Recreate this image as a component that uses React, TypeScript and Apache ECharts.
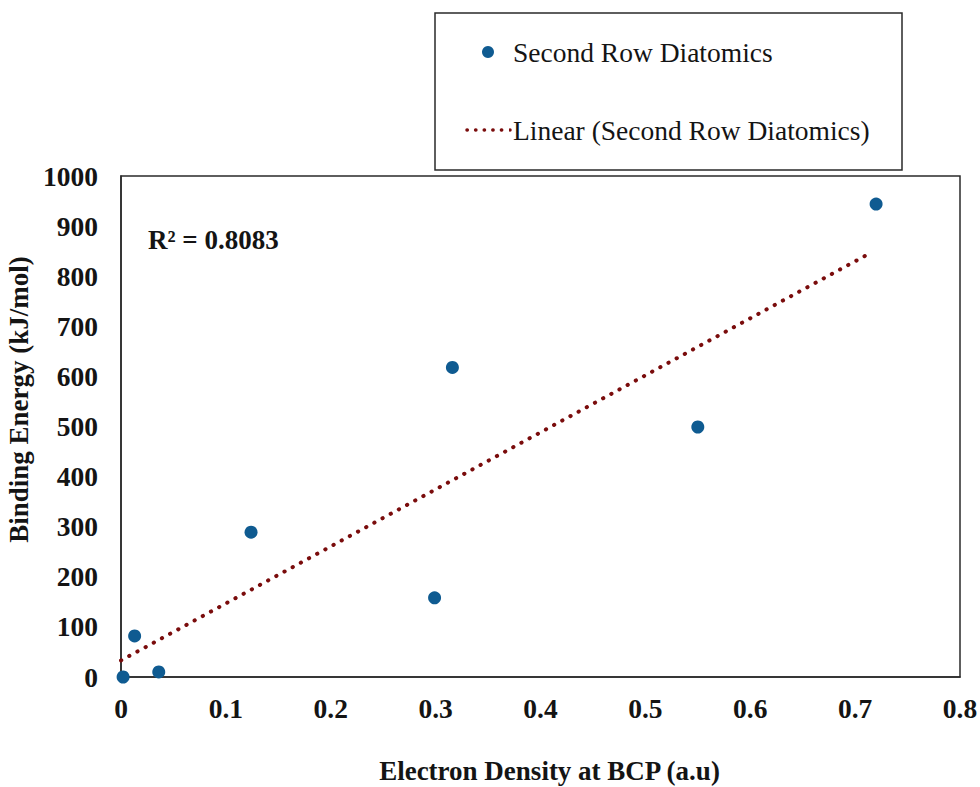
import React, { useEffect, useRef } from "react";
import * as echarts from "echarts";

const seriesName = "Second Row Diatomics";
const trendName = "Linear (Second Row Diatomics)";
const densityX = [0.002, 0.013, 0.036, 0.124, 0.299, 0.316, 0.55, 0.72];
const bindingY = [0, 82, 10, 289, 158, 618, 499, 944];
const trendX = [0, 0.716];
const trendY = [33, 848];
const xTicks = [0, 0.1, 0.2, 0.3, 0.4, 0.5, 0.6, 0.7, 0.8];
const yTicks = [0, 100, 200, 300, 400, 500, 600, 700, 800, 900, 1000];
const r2Label = "R² = 0.8083";
const xTitle = "Electron Density at BCP (a.u)";
const yTitle = "Binding Energy (kJ/mol)";

const FONT = "Liberation Serif, Times New Roman, serif";
const TXT = "#141414";
const BLUE = "#0f5b91";
const RED = "#7a0c0c";

export default function App() {
  const ref = useRef<HTMLDivElement>(null);
  useEffect(() => {
    if (!ref.current) return;
    const chart = echarts.init(ref.current, undefined, { renderer: "svg" });
    const points = densityX.map((x, i) => [x, bindingY[i]]);
    const trend = trendX.map((x, i) => [x, trendY[i]]);
    chart.setOption({
      animation: false,
      backgroundColor: "#ffffff",
      textStyle: { fontFamily: FONT },
      grid: {
        left: 121,
        right: 20,
        top: 176,
        bottom: 110,
        containLabel: false,
        outerBoundsMode: "none",
        show: true,
        borderColor: "#2a2a2a",
        borderWidth: 1.5,
      },
      xAxis: {
        type: "value",
        min: xTicks[0],
        max: xTicks[xTicks.length - 1],
        interval: 0.1,
        name: xTitle,
        nameLocation: "middle",
        nameGap: 80,
        nameTextStyle: {
          fontFamily: FONT,
          fontSize: 27,
          fontWeight: "bold",
          color: TXT,
          padding: [0, 0, 0, 18],
        },
        axisLine: { show: true, lineStyle: { color: "#2a2a2a", width: 1.5 } },
        axisTick: { show: false },
        splitLine: { show: false },
        axisLabel: {
          fontFamily: FONT,
          fontSize: 27.5,
          fontWeight: "bold",
          color: TXT,
          margin: 17,
          formatter: (v: number) => (v === 0 ? "0" : String(Math.round(v * 10) / 10)),
        },
      },
      yAxis: {
        type: "value",
        min: yTicks[0],
        max: yTicks[yTicks.length - 1],
        interval: 100,
        name: yTitle,
        nameLocation: "middle",
        nameGap: 83,
        nameTextStyle: {
          fontFamily: FONT,
          fontSize: 27,
          fontWeight: "bold",
          color: TXT,
          padding: [0, 0, 0, 54],
        },
        axisLine: { show: true, lineStyle: { color: "#2a2a2a", width: 1.5 } },
        axisTick: { show: false },
        splitLine: { show: false },
        axisLabel: {
          fontFamily: FONT,
          fontSize: 27.5,
          fontWeight: "bold",
          color: TXT,
          margin: 23,
          formatter: (v: number) => String(v),
        },
      },
      series: [
        {
          name: trendName,
          type: "line",
          data: trend,
          symbol: "none",
          lineStyle: { color: RED, width: 4, type: [0.3, 9], cap: "round" },
          z: 2,
        },
        {
          name: seriesName,
          type: "scatter",
          data: points,
          symbol: "circle",
          symbolSize: 13,
          itemStyle: { color: BLUE, opacity: 1 },
          z: 3,
        },
      ],
      graphic: [
        {
          type: "text",
          left: 148,
          top: 226,
          style: {
            text: r2Label,
            fontFamily: FONT,
            fontSize: 27,
            fontWeight: "bold",
            fill: TXT,
          },
        },
        {
          type: "rect",
          shape: { x: 435, y: 13, width: 467, height: 157 },
          style: { fill: "#ffffff", stroke: "#2a2a2a", lineWidth: 1.5 },
        },
        {
          type: "circle",
          shape: { cx: 488, cy: 52, r: 6 },
          style: { fill: BLUE },
        },
        {
          type: "text",
          x: 513,
          y: 52,
          style: {
            text: seriesName,
            fontFamily: FONT,
            fontSize: 27.5,
            fill: TXT,
            verticalAlign: "middle",
          },
        },
        {
          type: "line",
          shape: { x1: 467, y1: 130, x2: 510, y2: 130 },
          style: { stroke: RED, lineWidth: 3.5, lineDash: [0.3, 8.3], lineCap: "round" },
        },
        {
          type: "text",
          x: 513,
          y: 130,
          style: {
            text: trendName,
            fontFamily: FONT,
            fontSize: 27.5,
            fill: TXT,
            verticalAlign: "middle",
          },
        },
      ],
    });
    return () => chart.dispose();
  }, []);
  return (
    <div
      ref={ref}
      style={{ position: "fixed", left: 0, top: 0, width: 980, height: 787 }}
    />
  );
}
